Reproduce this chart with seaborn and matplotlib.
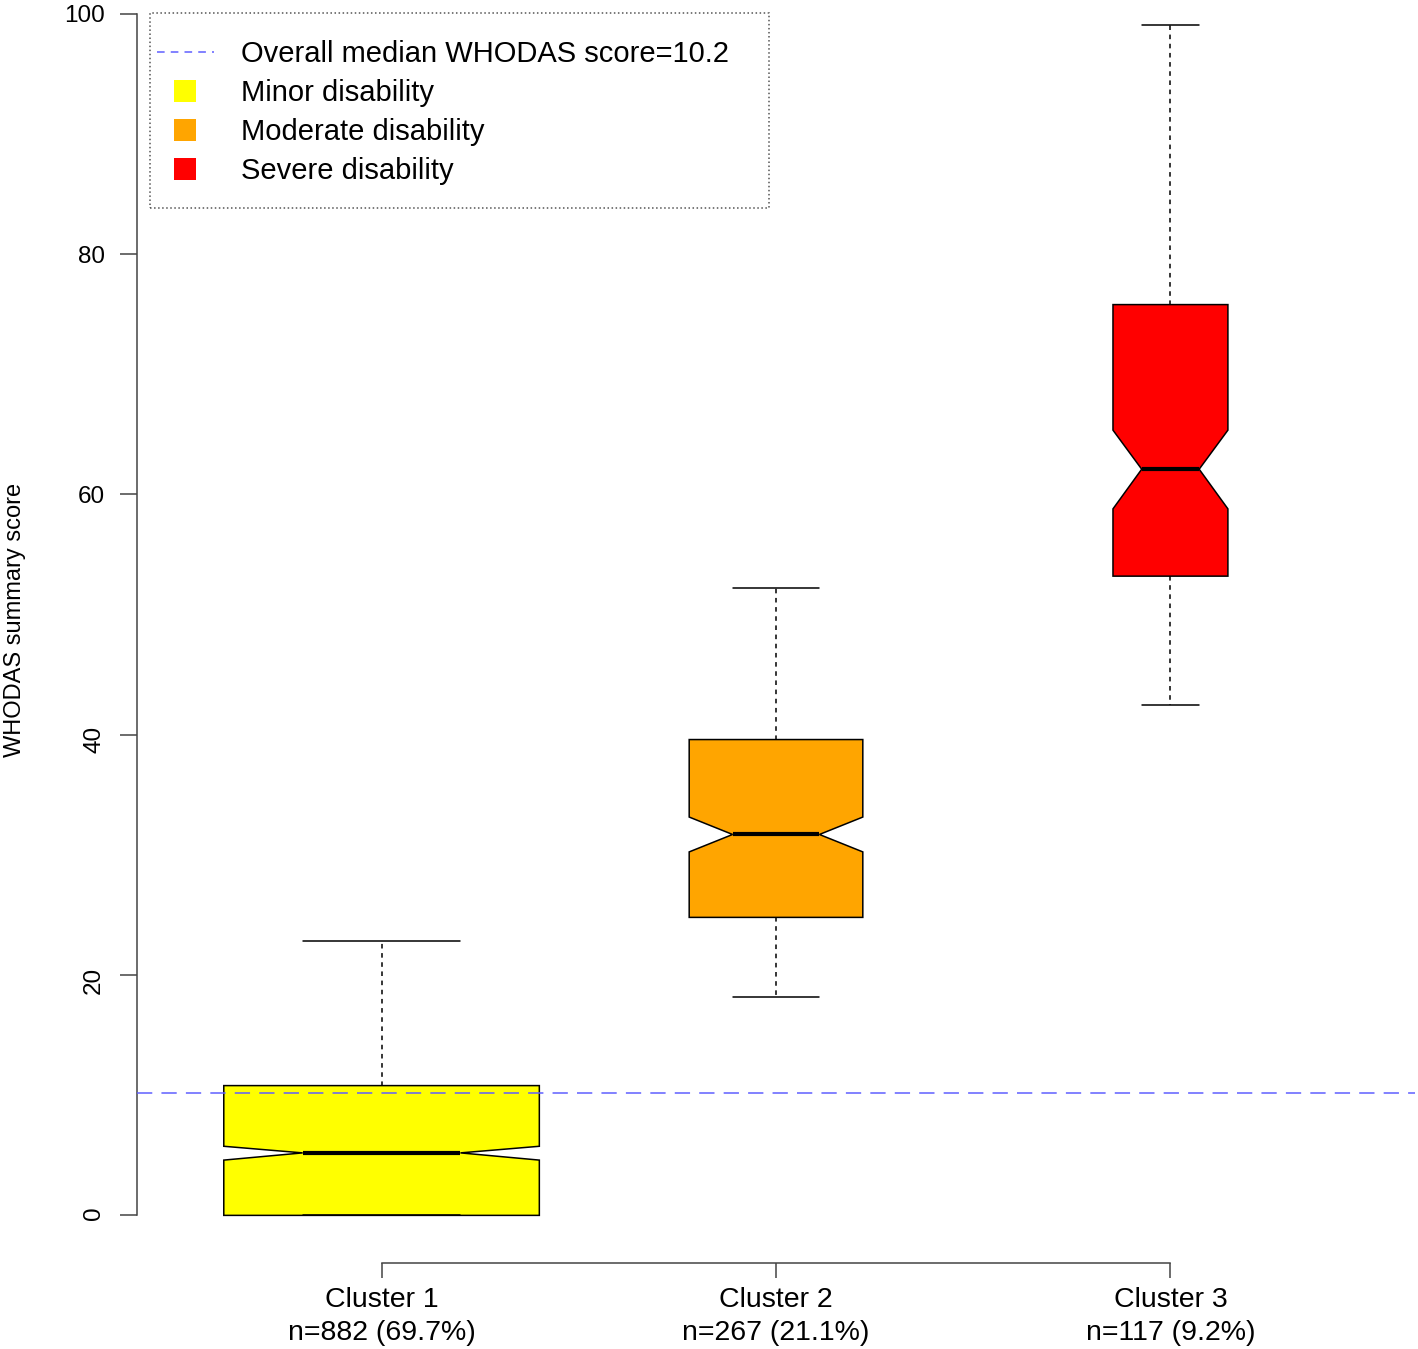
import numpy as np
import matplotlib
matplotlib.use("Agg")
import matplotlib.pyplot as plt
from matplotlib.lines import Line2D
from matplotlib.patches import Rectangle
import seaborn as sns

# groups
clusters = ["Cluster 1", "Cluster 2", "Cluster 3"]
n_sizes = [882, 267, 117]
n_percent = [69.7, 21.1, 9.2]
disability = ["Minor disability", "Moderate disability", "Severe disability"]
box_colors = ["#FFFF00", "#FFA500", "#FF0000"]

# box statistics (WHODAS summary score)
whisker_low = [0.0, 18.15, 42.5]
q1 = [0.0, 24.8, 53.2]
notch_low = [4.6, 30.25, 58.8]
median = [5.2, 31.7, 62.1]
notch_high = [5.75, 33.15, 65.35]
q3 = [10.8, 39.6, 75.8]
whisker_high = [22.8, 52.2, 99.1]

overall_median = 10.2
y_ticks = [0, 20, 40, 60, 80, 100]

sns.set_theme(style="ticks")
plt.rcParams["font.family"] = ["Liberation Sans", "DejaVu Sans"]
plt.rcParams["text.color"] = "black"
plt.rcParams["xtick.labelcolor"] = "black"
plt.rcParams["ytick.labelcolor"] = "black"

fig = plt.figure(figsize=(14.18, 13.49), dpi=100)
W, H = 1418, 1349
ax = fig.add_axes([137 / W, (H - 1263) / H, (1415 - 137) / W, 1286 / H])
ax.set_facecolor("white")

stats = []
for lab, lo, a, cl, m, ch, b, hi in zip(clusters, whisker_low, q1, notch_low, median,
                                         notch_high, q3, whisker_high):
    stats.append(dict(label=lab, whislo=lo, q1=a, cilo=cl, med=m, cihi=ch,
                      q3=b, whishi=hi, fliers=[]))

# varwidth boxes, as in R
widths = 0.8 * np.sqrt(np.array(n_sizes) / max(n_sizes))
positions = np.arange(1, len(clusters) + 1)

bp = ax.bxp(stats, positions=positions, widths=widths, shownotches=True,
            patch_artist=True, showfliers=False, manage_ticks=False,
            boxprops=dict(edgecolor="black", linewidth=1.1),
            medianprops=dict(color="black", linewidth=3, solid_capstyle="butt"),
            whiskerprops=dict(color="black", linewidth=1.1, linestyle=(0, (3, 3))),
            capprops=dict(color="black", linewidth=1.1))
for patch, c in zip(bp["boxes"], box_colors):
    patch.set_facecolor(c)

line_color = "#5f5fff"
ax.axhline(overall_median, color=line_color, linewidth=1.1,
           linestyle=(0, (10, 6)), zorder=5)

ax.set_xlim(0.38, 3.62)
ax.set_ylim(-3.964, 103.064)

ax.set_xticks(positions)
ax.set_xticklabels([f"{c}\nn={n} ({p}%)" for c, n, p in zip(clusters, n_sizes, n_percent)],
                   fontsize=20.5, linespacing=1.36)
ax.set_yticks(y_ticks)
ax.set_yticklabels([str(t) for t in y_ticks], fontsize=17.5)
for lab, t in zip(ax.get_yticklabels(), y_ticks):
    if t <= 40:
        lab.set_rotation(90)

axis_col = "#444444"
ax.tick_params(axis="y", length=12, width=1.1, pad=11, color=axis_col)
ax.tick_params(axis="x", length=11, width=1.1, pad=6, color=axis_col)
for side in ["top", "right"]:
    ax.spines[side].set_visible(False)
for side in ["left", "bottom"]:
    ax.spines[side].set_color(axis_col)
    ax.spines[side].set_linewidth(1.1)
ax.spines["left"].set_bounds(0, 100)
ax.spines["bottom"].set_bounds(1, 3)

fig.text(15 / W, 1 - 620 / H, "WHODAS summary score", rotation=90,
         ha="center", va="center", fontsize=17, color="black")

# legend
handles = [Line2D([], [], color=line_color, linewidth=1.1, linestyle=(0, (5, 4)))]
for c in box_colors:
    handles.append(Line2D([], [], linestyle="", marker="s", markersize=16,
                          markerfacecolor=c, markeredgewidth=0))
labels = [f"Overall median WHODAS score={overall_median}"] + disability
ax.legend(handles, labels, loc="upper left", bbox_to_anchor=(157 / W, 1 - 40 / H),
          bbox_transform=fig.transFigure, frameon=False, borderpad=0,
          borderaxespad=0, fontsize=21, handlelength=1.95, handletextpad=0.92,
          labelspacing=0.38)
fig.patches.append(Rectangle((150 / W, 1 - 208 / H), (769 - 150) / W, 195 / H,
                             transform=fig.transFigure, fill=False,
                             edgecolor="#555555", linewidth=1.1, linestyle=":"))

fig.savefig("out.png", dpi=100, facecolor="white")
